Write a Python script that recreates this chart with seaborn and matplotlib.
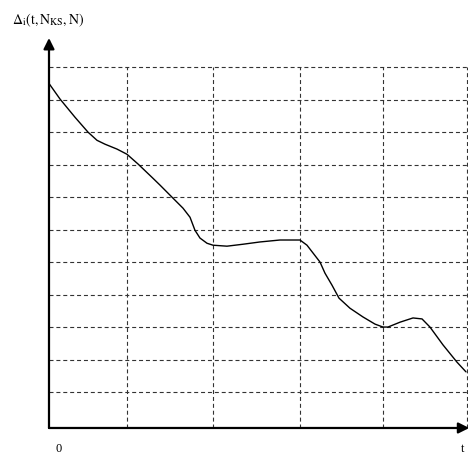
import matplotlib
matplotlib.use("Agg")
import matplotlib.pyplot as plt
import seaborn as sns
import pandas as pd

# curve values (x in grid units, y in grid units)
x_vals = [0.0, 0.132, 0.311, 0.467, 0.574, 0.670, 0.813, 0.933, 1.065, 1.244,
          1.328, 1.471, 1.603, 1.687, 1.746, 1.806, 1.890, 1.962, 2.129, 2.321,
          2.524, 2.763, 3.002, 3.086, 3.158, 3.242, 3.301, 3.385, 3.469, 3.600,
          3.756, 3.900, 3.995, 4.055, 4.199, 4.354, 4.462, 4.557, 4.713, 4.880,
          4.988]
y_vals = [10.50, 10.02, 9.46, 9.0, 8.75, 8.63, 8.48, 8.32, 8.02, 7.58,
          7.37, 7.0, 6.66, 6.38, 5.98, 5.74, 5.58, 5.52, 5.49, 5.55,
          5.62, 5.68, 5.68, 5.52, 5.28, 5.0, 4.66, 4.29, 3.89, 3.58,
          3.31, 3.09, 3.0, 3.0, 3.15, 3.28, 3.25, 3.0, 2.45, 1.92,
          1.62]
v_grid = [0.93, 1.96, 3.0, 4.0, 5.0]
h_grid = [1, 2, 3, 4, 5, 6, 7, 8, 9, 10, 11]
y_label = r"$\Delta_\mathrm{i}(\mathrm{t},\mathrm{N}_\mathrm{KS},\mathrm{N})$"
x_tick_labels = ["0", "t"]

sns.set_theme(style="white")
plt.rcParams["font.family"] = ["Liberation Serif", "DejaVu Serif"]
plt.rcParams["mathtext.fontset"] = "stix"

fig = plt.figure(figsize=(4.68, 4.54), dpi=100)
ax = fig.add_axes([0.1047, 0.0573, 0.8953, 0.859])
xmin, xmax = 0.0, 5.012
ymin, ymax = -0.108, 11.9
ax.set_xlim(xmin, xmax)
ax.set_ylim(ymin, ymax)
for s in ax.spines.values():
    s.set_visible(False)
ax.set_xticks([])
ax.set_yticks([])
ax.set_facecolor("white")

dash = (0, (3.6, 2.6))
for yv in h_grid:
    ax.plot([xmin, xmax], [yv, yv], color="#333333", lw=0.8, linestyle=dash,
            zorder=1)
for xv in v_grid:
    ax.plot([xv, xv], [ymin, 11], color="#333333", lw=0.8, linestyle=dash,
            zorder=1)

df = pd.DataFrame({"x": x_vals, "y": y_vals})
sns.lineplot(data=df, x="x", y="y", ax=ax, color="black", lw=1.0,
             sort=False, zorder=3)
ax.set_xlabel("")
ax.set_ylabel("")

# axes with arrows
ax.annotate("", xy=(0, 1.0), xytext=(0, 0), xycoords="axes fraction",
            arrowprops=dict(arrowstyle="-|>", lw=1.6, color="black",
                            mutation_scale=16, shrinkA=0, shrinkB=0),
            annotation_clip=False, zorder=5)
ax.annotate("", xy=(1.003, 0), xytext=(0, 0), xycoords="axes fraction",
            arrowprops=dict(arrowstyle="-|>", lw=1.6, color="black",
                            mutation_scale=16, shrinkA=0, shrinkB=0),
            annotation_clip=False, zorder=5)

fig.text(12 / 468, 1 - 20 / 454, y_label, fontsize=10, ha="left",
         va="center", color="black")
fig.text(59 / 468, 1 - 449 / 454, x_tick_labels[0], fontsize=9, ha="center",
         va="center", color="black")
fig.text(461 / 468, 1 - 449 / 454, x_tick_labels[1], fontsize=9, ha="left",
         va="center", color="black")

fig.savefig("out.png", dpi=100)
